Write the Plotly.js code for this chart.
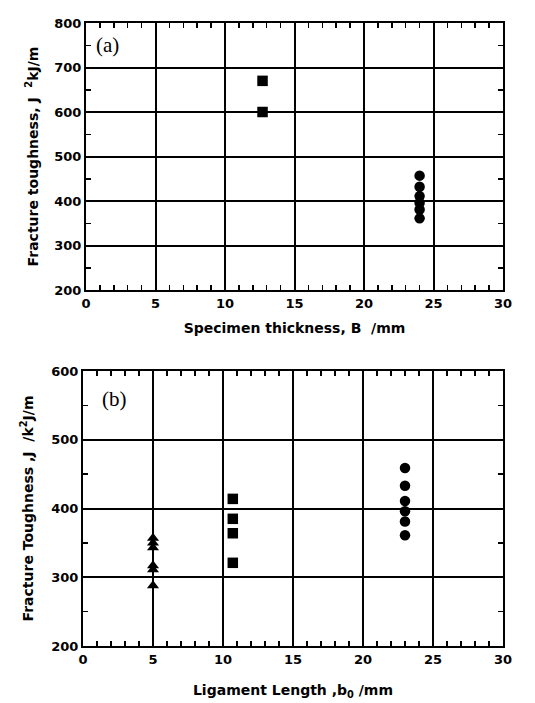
<!DOCTYPE html>
<html><head><meta charset="utf-8">
<script src="https://cdn.plot.ly/plotly-3.0.1.min.js"></script>
<style>body{margin:0;background:#fff}#c{width:535px;height:703px}</style>
</head><body><div id="c"></div>
<script>
// Panel (a): fracture toughness vs specimen thickness
const aSquareX = [12.7, 12.7];
const aSquareY = [670, 600];
const aCircleX = [24, 24, 24, 24, 24, 24];
const aCircleY = [457, 432, 411, 396, 381, 361];
// Panel (b): fracture toughness vs ligament length
const bTriX = [5, 5, 5, 5, 5, 5];
const bTriY = [357, 350, 343, 317, 311, 288];
const bSqX = [10.7, 10.7, 10.7, 10.7];
const bSqY = [414, 385, 364, 321];
const bCircX = [23, 23, 23, 23, 23, 23];
const bCircY = [459, 433, 411, 396, 381, 361];
const xTicks = [0, 5, 10, 15, 20, 25, 30];
const yTicksA = [200, 300, 400, 500, 600, 700, 800];
const yTicksB = [200, 300, 400, 500, 600];

const FAM = '"DejaVu Sans", Arial, sans-serif';
const TICKFONT = {family: FAM, size: 13, color: '#000', weight: 'bold'};
const TITLEFONT = {family: FAM, size: 14, color: '#000', weight: 'bold'};
const mk = (sym) => ({symbol: sym, size: 10.5, color: '#000', line: {width: 0}});
const traces = [
  {x: aSquareX, y: aSquareY, mode: 'markers', marker: mk('square'), xaxis: 'x', yaxis: 'y'},
  {x: aCircleX, y: aCircleY, mode: 'markers', marker: mk('circle'), xaxis: 'x', yaxis: 'y'},
  {x: bTriX, y: bTriY, mode: 'markers', marker: mk('triangle-up'), xaxis: 'x2', yaxis: 'y2'},
  {x: bSqX, y: bSqY, mode: 'markers', marker: mk('square'), xaxis: 'x2', yaxis: 'y2'},
  {x: bCircX, y: bCircY, mode: 'markers', marker: mk('circle'), xaxis: 'x2', yaxis: 'y2'}
];
const W = 535, H = 703;
function xax(dom, anchor, title, standoff) {
  return {domain: dom, anchor: anchor, range: [0, 30], tickvals: xTicks, ticktext: xTicks.map(String),
    showgrid: true, gridcolor: '#000', gridwidth: 2, zeroline: false,
    showline: true, linecolor: '#000', linewidth: 2, mirror: 'ticks',
    ticks: 'inside', ticklen: 1, tickcolor: '#000', tickfont: TICKFONT,
    minor: {dtick: 1, ticks: 'inside', ticklen: 5, tickcolor: '#000', tickwidth: 1.5, showgrid: false},
    title: {text: title, font: TITLEFONT, standoff: standoff}};
}
function yax(dom, anchor, range, tv, title, standoff) {
  return {domain: dom, anchor: anchor, range: range, tickvals: tv, ticktext: tv.map(String),
    showgrid: true, gridcolor: '#000', gridwidth: 2, zeroline: false,
    showline: true, linecolor: '#000', linewidth: 2, mirror: 'ticks',
    ticks: 'inside', ticklen: 1, tickcolor: '#000', tickfont: TICKFONT,
    minor: {dtick: 50, ticks: 'inside', ticklen: 5, tickcolor: '#000', tickwidth: 1.5, showgrid: false},
    title: {text: title, font: TITLEFONT, standoff: standoff}};
}
const layout = {
  width: W, height: H, showlegend: false,
  margin: {l: 0, r: 0, t: 0, b: 0},
  paper_bgcolor: '#fff', plot_bgcolor: '#fff',
  xaxis: xax([86 / W, 503 / W], 'y', 'Specimen thickness, B  /mm', 14),
  yaxis: yax([1 - 290 / H, 1 - 23 / H], 'x', [200, 800], yTicksA, 'Fracture toughness, J  <sup>2</sup>kJ/m', 12),
  xaxis2: xax([83 / W, 503 / W], 'y2', 'Ligament Length ,b<sub>0</sub> /mm', 20),
  yaxis2: yax([1 - 646 / H, 1 - 371 / H], 'x2', [200, 600], yTicksB, 'Fracture Toughness ,J  /k<sup>2</sup>J/m', 14),
  annotations: [
    {text: '(a)', xref: 'x domain', yref: 'y domain', x: 0.02, y: 0.97, xanchor: 'left', yanchor: 'top',
     showarrow: false, font: {family: '"Liberation Serif", "DejaVu Serif", serif', size: 21, color: '#000'}},
    {text: '(b)', xref: 'x2 domain', yref: 'y2 domain', x: 0.04, y: 0.95, xanchor: 'left', yanchor: 'top',
     showarrow: false, font: {family: '"Liberation Serif", "DejaVu Serif", serif', size: 21, color: '#000'}}
  ]
};
Plotly.newPlot('c', traces, layout, {displayModeBar: false, staticPlot: true});
</script></body></html>
